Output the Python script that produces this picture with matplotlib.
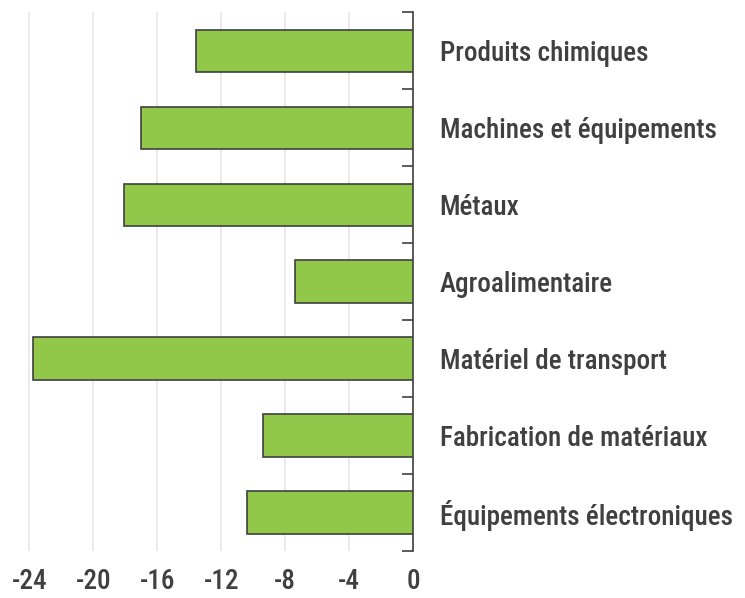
import numpy as np
import matplotlib.pyplot as plt
from matplotlib import font_manager

categories = ["Produits chimiques", "Machines et équipements", "Métaux",
              "Agroalimentaire", "Matériel de transport",
              "Fabrication de matériaux", "Équipements électroniques"]
values = [-13.6, -17.0, -18.1, -7.4, -23.75, -9.4, -10.4]
xticks = [-24, -20, -16, -12, -8, -4, 0]

names = {f.name for f in font_manager.fontManager.ttflist}
family = [n for n in ["Arial Narrow", "Liberation Sans Narrow", "Roboto Condensed",
                      "PT Sans Narrow", "Archivo Narrow"] if n in names][:1] + ["DejaVu Sans"]
plt.rcParams['font.family'] = family

fig = plt.figure(figsize=(7.45, 5.98), dpi=100)
ax = fig.add_axes([26 / 745, 1 - 551 / 598, (413.3 - 26) / 745, (551 - 12.3) / 598])

y = np.arange(len(categories))
ax.barh(y, values, height=0.55, color="#92C84A", edgecolor="#404040", linewidth=1.2, zorder=3)

ax.set_xlim(-24.2, 0)
ax.set_ylim(len(categories) - 0.5, -0.5)

ax.set_xticks(xticks)
ax.set_xticklabels([str(t) for t in xticks])
ax.xaxis.grid(True, color="#E6E6E6", linewidth=1.2, zorder=0)
ax.tick_params(axis="x", length=0, pad=12, labelsize=19.5, labelcolor="#404040")

ax.yaxis.tick_right()
ax.set_yticks(y)
ax.set_yticklabels(categories)
ax.set_yticks(np.arange(-0.5, len(categories)), minor=True)
ax.tick_params(axis="y", which="major", length=0, pad=19, labelsize=19.5, labelcolor="#404040")
ax.tick_params(axis="y", which="minor", direction="in", length=8, width=1.2, color="#404040", right=True, left=False)
for lab in ax.get_yticklabels() + ax.get_xticklabels():
    lab.set_fontweight(500)

for s in ["left", "top", "bottom"]:
    ax.spines[s].set_visible(False)
ax.spines["right"].set_color("#404040")
ax.spines["right"].set_linewidth(1.2)

fig.savefig("out.png", dpi=100)
